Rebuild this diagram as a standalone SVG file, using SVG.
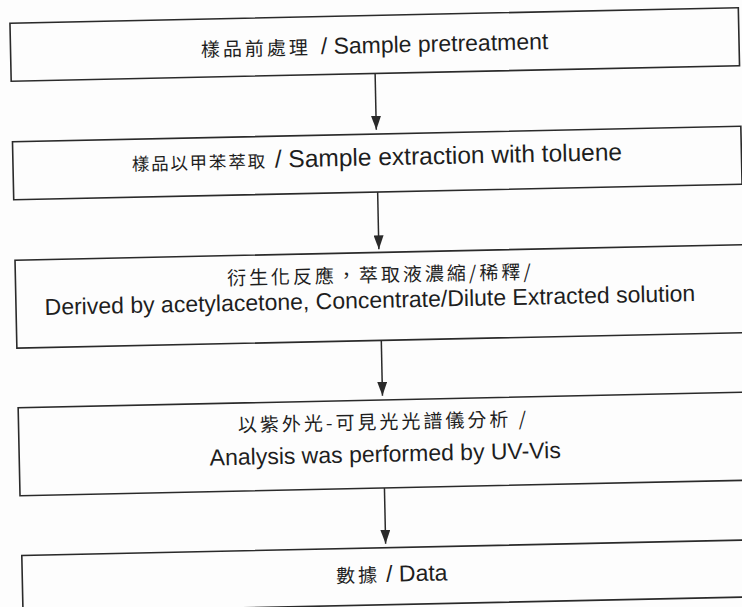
<svg xmlns="http://www.w3.org/2000/svg" width="742" height="607" viewBox="0 0 742 607">
<defs>
<style>
.box{fill:none;stroke:#2a2a2a;stroke-width:1.6}
.conn line{stroke:#2a2a2a;stroke-width:1.5;marker-end:url(#ah)}
text{font-family:"Liberation Sans","Noto Sans CJK TC",sans-serif;font-size:23px;fill:#1e1e1e;text-anchor:middle}
.cj{font-family:"Noto Sans CJK TC","Noto Sans CJK SC",sans-serif;font-size:19px;letter-spacing:3px}
.cj2{font-family:"Noto Sans CJK TC","Noto Sans CJK SC",sans-serif;font-size:17.5px;letter-spacing:1.8px}
</style>
<marker id="ah" viewBox="0 0 14 10" refX="14" refY="5" markerWidth="14" markerHeight="10" markerUnits="userSpaceOnUse" orient="auto">
<path d="M0,0 L14,5 L0,10 z" fill="#2a2a2a"/>
</marker>
</defs>
<rect width="742" height="607" fill="#fdfdfd"/>
<g transform="rotate(-1.22 371 303)">
<g id="n1">
<rect class="box" x="16" y="15.6" width="728.5" height="58"/>
<text x="380" y="53"><tspan class="cj">樣品前處理</tspan><tspan dx="10">/ Sample pretreatment</tspan></text>
</g>
<g id="n2">
<rect class="box" x="16" y="134.2" width="728.5" height="58"/>
<text x="380" y="165.5"><tspan class="cj2">樣品以甲苯萃取</tspan><tspan dx="8" font-size="24.5">/ Sample extraction with toluene</tspan></text>
</g>
<g id="n3">
<rect class="box" x="16" y="252.6" width="728.5" height="88"/>
<text x="381" y="282"><tspan class="cj">衍生化反應，萃取液濃縮/稀釋/</tspan></text>
<text x="370" y="308">Derived by acetylacetone, Concentrate/Dilute Extracted solution</text>
</g>
<g id="n4">
<rect class="box" x="16" y="400.2" width="728.5" height="88"/>
<text x="381" y="429"><tspan class="cj">以紫外光-可見光光譜儀分析 /</tspan></text>
<text x="382" y="462">Analysis was performed by UV-Vis</text>
</g>
<g id="n5">
<rect class="box" x="16.5" y="548" width="728.5" height="57"/>
<text x="386" y="582"><tspan class="cj">數據</tspan><tspan dx="6">/ Data</tspan></text>
</g>
<g id="connectors" class="conn">
<line x1="380" y1="73.6" x2="380" y2="130"/>
<line x1="380" y1="192.2" x2="380" y2="249.5"/>
<line x1="380.5" y1="340.6" x2="380.5" y2="396"/>
<line x1="380.5" y1="488.2" x2="380.5" y2="544"/>
</g>
</g>
</svg>
